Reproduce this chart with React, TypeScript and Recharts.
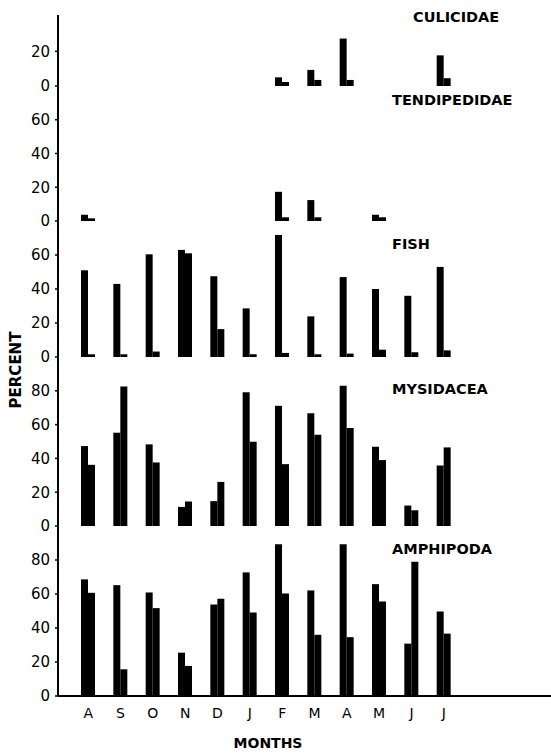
import React from 'react';
import { BarChart, Bar, XAxis, YAxis } from 'recharts';

const months = ['A', 'S', 'O', 'N', 'D', 'J', 'F', 'M', 'A', 'M', 'J', 'J'];

const culicidaeA = [0, 0, 0, 0, 0, 0, 5, 9.3, 27.4, 0, 0, 17.7];
const culicidaeB = [0, 0, 0, 0, 0, 0, 2.3, 3.5, 3.5, 0, 0, 4.5];

const tendipedidaeA = [3.7, 0, 0, 0, 0, 0, 17.3, 12.4, 0, 3.7, 0, 0];
const tendipedidaeB = [1.6, 0, 0, 0, 0, 0, 2.2, 2.2, 0, 2.2, 0, 0];

const fishA = [51, 43, 60.4, 63, 47.5, 28.6, 71.8, 23.9, 47, 40, 36, 53];
const fishB = [1.6, 1.6, 3.2, 61, 16.4, 1.6, 2.4, 1.6, 2, 4.3, 2.8, 3.9];

const mysidaceaA = [47.3, 55.2, 48.3, 11.3, 14.7, 79.2, 71.1, 66.7, 83, 46.9, 12.1, 35.8];
const mysidaceaB = [36.2, 82.6, 37.6, 14.5, 26.1, 49.9, 36.6, 54, 58, 39, 9.3, 46.5];

const amphipodaA = [68.6, 65.2, 60.9, 25.5, 53.8, 72.7, 89.2, 62.1, 89.2, 65.8, 30.8, 49.7];
const amphipodaB = [60.7, 15.7, 51.7, 17.7, 57.2, 49.1, 60.3, 36, 34.6, 55.6, 79, 36.7];

const font = '"DejaVu Sans", sans-serif';

interface PanelProps {
  title: string;
  titleX: number;
  titleY: number;
  a: number[];
  b: number[];
  top: number;
  plotHeight: number;
  max: number;
  ticks: number[];
  showMonths?: boolean;
}

const Panel: React.FC<PanelProps> = ({ title, titleX, titleY, a, b, top, plotHeight, max, ticks, showMonths }) => {
  const data = months.map((m, i) => ({ month: m, a: a[i], b: b[i] }));
  const pad = 12;
  const xHeight = showMonths ? 36 : 0;
  return (
    <>
      <div style={{ position: 'absolute', left: 0, top: top - pad }}>
        <BarChart
          width={551}
          height={plotHeight + pad * 2 + xHeight}
          data={data}
          margin={{ top: pad, right: 0, bottom: pad, left: 0 }}
          barGap={0}
          barCategoryGap={0}
        >
          <XAxis
            dataKey="month"
            interval={0}
            height={xHeight}
            padding={{ left: 14, right: 91 }}
            axisLine={{ stroke: '#000', strokeWidth: 2 }}
            tickLine={false}
            tick={showMonths ? { fill: '#000', fontSize: 14, fontFamily: font } : false}
            tickMargin={6}
          />
          <YAxis
            width={58}
            domain={[0, max]}
            ticks={ticks}
            interval={0}
            allowDataOverflow
            axisLine={{ stroke: '#000', strokeWidth: 2 }}
            tickLine={{ stroke: '#000', strokeWidth: 1.5 }}
            tickSize={3}
            tickMargin={5}
            tick={{ fill: '#000', fontSize: 15, fontFamily: font }}
          />
          <Bar dataKey="a" fill="#000" barSize={7} isAnimationActive={false} />
          <Bar dataKey="b" fill="#000" barSize={7} isAnimationActive={false} />
        </BarChart>
      </div>
      <div
        style={{
          position: 'absolute',
          left: titleX,
          top: titleY - 9,
          fontFamily: font,
          fontSize: 14.5,
          fontWeight: 'bold',
          lineHeight: '18px',
          color: '#000',
        }}
      >
        {title}
      </div>
    </>
  );
};

export default function App() {
  return (
    <div style={{ position: 'absolute', left: 0, top: 0, width: 551, height: 753, background: '#fff' }}>
      <Panel title="CULICIDAE" titleX={413} titleY={17} a={culicidaeA} b={culicidaeB} top={15} plotHeight={71} max={41} ticks={[0, 20]} />
      <Panel title="TENDIPEDIDAE" titleX={392} titleY={100} a={tendipedidaeA} b={tendipedidaeB} top={86} plotHeight={135} max={80} ticks={[0, 20, 40, 60]} />
      <Panel title="FISH" titleX={392} titleY={244} a={fishA} b={fishB} top={221} plotHeight={136} max={80} ticks={[0, 20, 40, 60]} />
      <Panel title="MYSIDACEA" titleX={392} titleY={389} a={mysidaceaA} b={mysidaceaB} top={357} plotHeight={169} max={100} ticks={[0, 20, 40, 60, 80]} />
      <Panel title="AMPHIPODA" titleX={392} titleY={549} a={amphipodaA} b={amphipodaB} top={526} plotHeight={170} max={100} ticks={[0, 20, 40, 60, 80]} showMonths />
      <div
        style={{
          position: 'absolute',
          left: 16 - 50,
          top: 370 - 10,
          width: 100,
          height: 20,
          textAlign: 'center',
          transform: 'rotate(-90deg)',
          fontFamily: font,
          fontSize: 15,
          fontWeight: 'bold',
          lineHeight: '20px',
          color: '#000',
        }}
      >
        PERCENT
      </div>
      <div
        style={{
          position: 'absolute',
          left: 268 - 60,
          top: 743 - 9,
          width: 120,
          textAlign: 'center',
          fontFamily: font,
          fontSize: 14,
          fontWeight: 'bold',
          lineHeight: '18px',
          color: '#000',
        }}
      >
        MONTHS
      </div>
    </div>
  );
}
